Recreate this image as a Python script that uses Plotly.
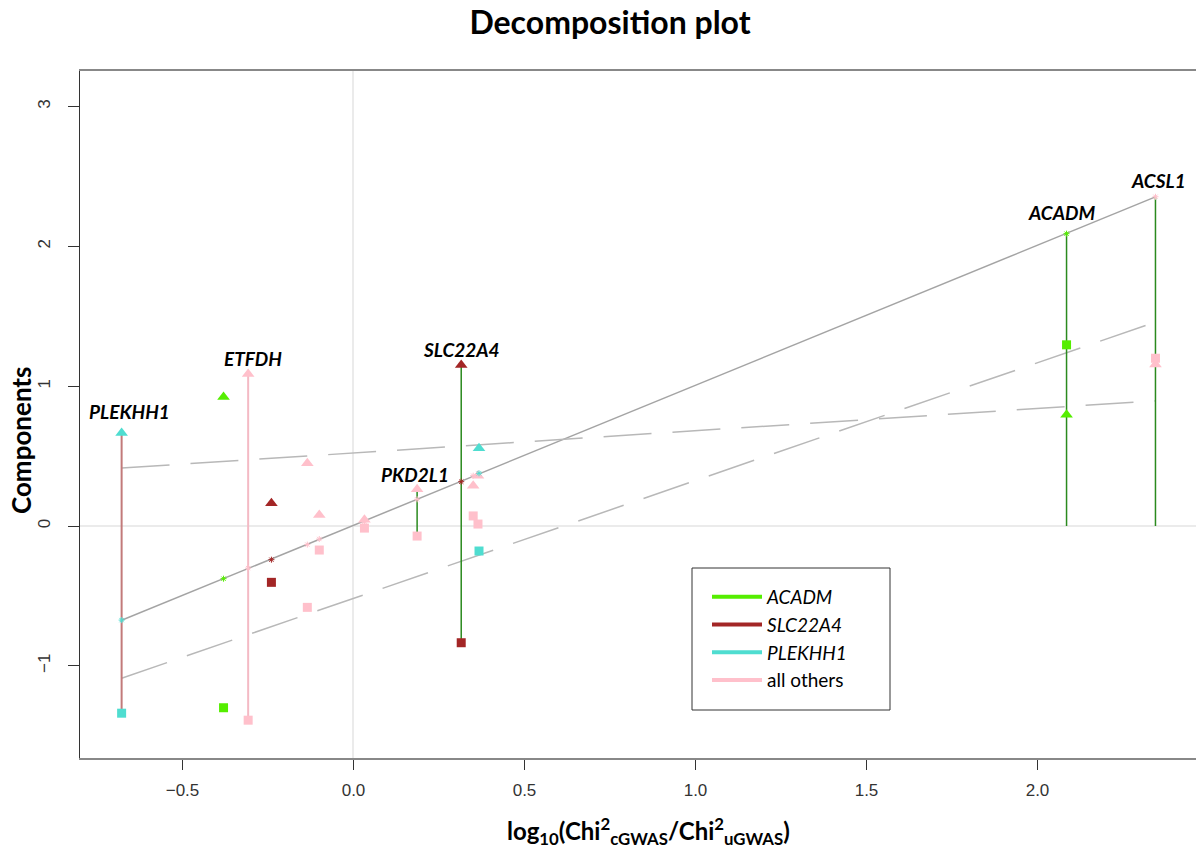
import numpy as np
import plotly.graph_objects as go

# ---------------- data ----------------
log_ratio = [-0.678, -0.380, -0.308, -0.240, -0.135, -0.100, 0.032, 0.186,
             0.315, 0.350, 0.364, 0.367, 2.085, 2.345]
comp_a = [0.666, 0.923, 1.088, 0.162, 0.449, 0.079, 0.045, 0.263,
          1.152, 0.288, 0.360, 0.556, 0.795, 1.155]          # triangles
comp_b = [-1.339, -1.300, -1.389, -0.403, -0.582, -0.172, -0.015, -0.072,
          -0.835, 0.072, 0.014, -0.179, 1.296, 1.200]        # squares
group = ["PLEKHH1", "ACADM", "all others", "SLC22A4", "all others", "all others",
         "all others", "all others", "SLC22A4", "all others", "all others",
         "PLEKHH1", "ACADM", "all others"]
gene_label = ["PLEKHH1", "", "ETFDH", "", "", "", "", "PKD2L1", "SLC22A4",
              "", "", "", "ACADM", "ACSL1"]
legend_names = ["ACADM", "SLC22A4", "PLEKHH1", "all others"]
x_ticks = [-0.5, 0.0, 0.5, 1.0, 1.5, 2.0]
y_ticks = [-1, 0, 1, 2, 3]

# ---------------- styles ----------------
group_color = {"ACADM": "#55EE00", "SLC22A4": "#A32626",
               "PLEKHH1": "#4FDDD0", "all others": "#FFC0CB"}
segment_color = {"PLEKHH1": "#C27A7A", "ETFDH": "#F4BAC4", "PKD2L1": "#2B8A1E",
                 "SLC22A4": "#2B8A1E", "ACADM": "#2B8A1E", "ACSL1": "#2B8A1E"}
segment_width = {"PLEKHH1": 2, "ETFDH": 2, "PKD2L1": 1.5,
                 "SLC22A4": 1.5, "ACADM": 1.5, "ACSL1": 1.5}
label_shift = {"PLEKHH1": 21, "ETFDH": 15, "PKD2L1": 15,
               "SLC22A4": 15, "ACADM": 21, "ACSL1": 16}
label_dx = {"PLEKHH1": 8, "ETFDH": 5, "PKD2L1": -2,
            "SLC22A4": 0, "ACADM": -5, "ACSL1": 3}

# plot-area geometry (pixels) used to convert layout positions to paper units
L, R, T, B = 80, 1196, 71, 758
W, H = R - L, B - T


def px(xp):
    return (xp - L) / W


def py(yp):
    return (B - yp) / H


x = np.array(log_ratio)
a = np.array(comp_a)
b = np.array(comp_b)
s = a + b
colors = [group_color[g] for g in group]

fig = go.Figure()

# regression lines of each component and of their sum on the log ratio
xs = np.array([x.min(), x.max()])
for yy, dash, col in [(s, "solid", "#A4A4A4"), (a, "48px,21px", "#B8B8B8"),
                      (b, "48px,21px", "#B8B8B8")]:
    k, c0 = np.polyfit(x, yy, 1)
    fig.add_trace(go.Scatter(x=xs, y=k * xs + c0, mode="lines",
                             line=dict(color=col, width=1.5, dash=dash),
                             showlegend=False, hoverinfo="skip"))

# vertical segments for labelled genes
for i, lab in enumerate(gene_label):
    if not lab:
        continue
    vals = [0.0, a[i], b[i], s[i]]
    fig.add_trace(go.Scatter(x=[x[i], x[i]], y=[min(vals), max(vals)], mode="lines",
                             line=dict(color=segment_color[lab], width=segment_width[lab]),
                             showlegend=False, hoverinfo="skip"))

# component markers and sums
fig.add_trace(go.Scatter(x=x, y=a, mode="markers", showlegend=False,
                         marker=dict(symbol="triangle-up", size=11, color=colors)))
fig.add_trace(go.Scatter(x=x, y=b, mode="markers", showlegend=False,
                         marker=dict(symbol="square", size=9, color=colors)))
fig.add_trace(go.Scatter(x=x, y=s, mode="markers", showlegend=False,
                         marker=dict(symbol="asterisk-open", size=5, color=colors,
                                     line=dict(color=colors, width=1))))

# legend entries
for nm in legend_names:
    shown = nm if nm == "all others" else "<i>" + nm + "</i>"
    fig.add_trace(go.Scatter(x=[None], y=[None], mode="lines", name=shown,
                             legendgroup=nm,
                             line=dict(color=group_color[nm], width=4)))

# legend frame
fig.add_shape(type="rect", xref="paper", yref="paper",
              x0=px(692), x1=px(890), y0=py(710), y1=py(568),
              line=dict(color="#333333", width=1), fillcolor="rgba(0,0,0,0)")

# gene labels
for i, lab in enumerate(gene_label):
    if not lab:
        continue
    top = max(0.0, a[i], b[i], s[i])
    fig.add_annotation(x=x[i], y=top, text="<b><i>" + lab + "</i></b>", showarrow=False,
                       yshift=label_shift[lab], xshift=label_dx[lab],
                       font=dict(family="Lato", size=19, color="black"))

# axis titles
fig.add_annotation(xref="paper", yref="paper", x=px(648), y=py(831),
                   text="<b>log<sub>10</sub>(Chi<sup>2</sup><sub>cGWAS</sub>/Chi<sup>2</sup><sub>uGWAS</sub>)</b>",
                   showarrow=False, xanchor="center", yanchor="middle",
                   font=dict(family="Lato", size=24, color="black"))
fig.add_annotation(xref="paper", yref="paper", x=px(21), y=py(441),
                   text="<b>Components</b>", textangle=-90,
                   showarrow=False, xanchor="center", yanchor="middle",
                   font=dict(family="Lato", size=26, color="black"))

fig.update_layout(
    width=1196, height=850,
    margin=dict(l=L, r=1196 - R, t=T, b=850 - B, autoexpand=False),
    paper_bgcolor="white", plot_bgcolor="white",
    title=dict(text="<b>Decomposition plot</b>", xref="container", yref="container",
               x=610 / 1196, y=1 - 23 / 850, xanchor="center", yanchor="middle",
               font=dict(family="Lato", size=32, color="black")),
    xaxis=dict(range=[-0.7997, 2.4635], tickvals=x_ticks, tickformat=".1f",
               showgrid=False, zeroline=True, zerolinecolor="#EBEBEB", zerolinewidth=1.5,
               showline=True, linecolor="#888888", linewidth=1.5, mirror=True,
               ticks="outside", ticklen=10, tickcolor="#333333", tickwidth=1,
               ticklabelstandoff=6,
               tickfont=dict(family="Liberation Sans", size=17, color="#333333")),
    yaxis=dict(range=[-1.6595, 3.2546], tickvals=y_ticks, tickangle=-90,
               showgrid=False, zeroline=True, zerolinecolor="#EBEBEB", zerolinewidth=1.5,
               showline=True, linecolor="#333333", linewidth=1,
               ticks="outside", ticklen=11, tickcolor="#333333", tickwidth=1,
               ticklabelstandoff=11,
               tickfont=dict(family="Liberation Sans", size=17, color="#333333")),
    legend=dict(x=px(707), y=py(578), xanchor="left", yanchor="top",
                borderwidth=0, bgcolor="rgba(0,0,0,0)",
                itemwidth=50, tracegroupgap=0,
                font=dict(family="Lato", size=19, color="black")),
    showlegend=True,
)

fig.write_html("out.html", post_script="document.body.style.margin='0';",
               config={"displayModeBar": False})
